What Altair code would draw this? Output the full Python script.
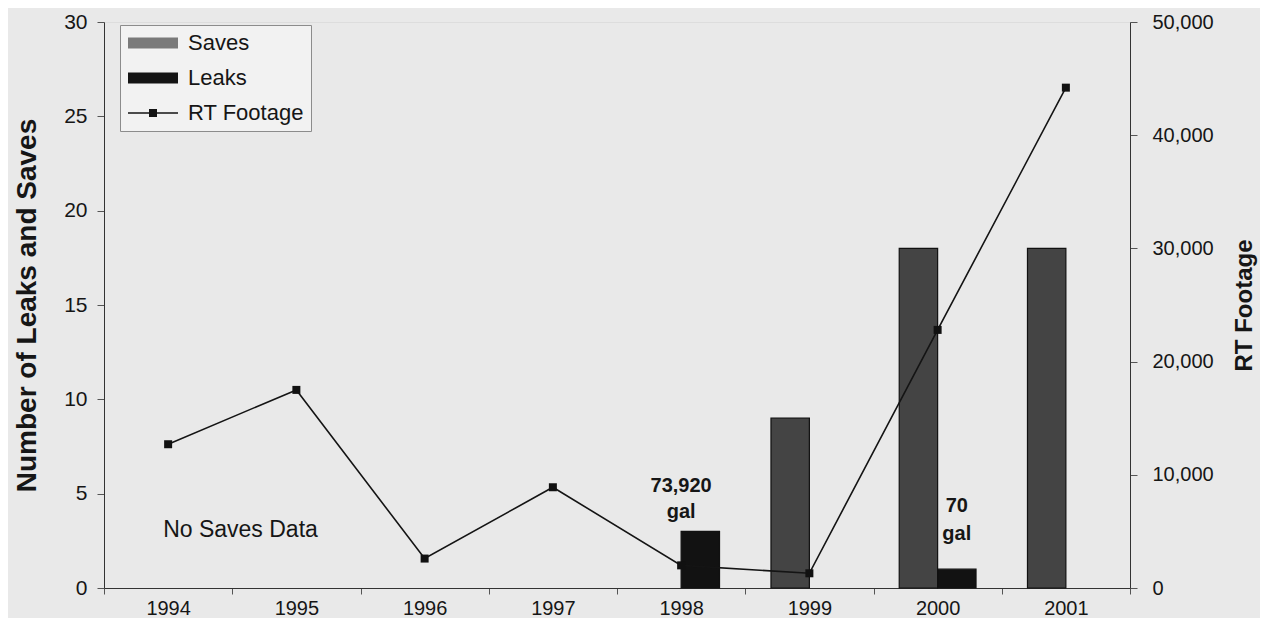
import altair as alt
import pandas as pd

# ---------------- data ----------------
years = ["1994", "1995", "1996", "1997", "1998", "1999", "2000", "2001"]
saves = [None, None, None, None, None, 9, 18, 18]
leaks = [0, 0, 0, 0, 3, 0, 1, 0]
rt_footage = [12700, 17500, 2600, 8900, 2000, 1300, 22800, 44200]

bar_series = ["Saves", "Leaks"]
legend_series = ["Saves", "Leaks", "RT Footage"]

left_ticks = [0, 5, 10, 15, 20, 25, 30]
right_ticks = [0, 10000, 20000, 30000, 40000, 50000]

note_left_year = ["1994"]
note_left_text = ["No Saves Data"]
note_left_value = [3.05]

note_center_year = ["1998"]
note_center_text = ["73,920\ngal"]
note_center_value = [5.4]

note_leak_year = ["2000"]
note_leak_series = ["Leaks"]
note_leak_text = ["70\ngal"]
note_leak_value = [4.35]

# ---------------- tables ----------------
rows = []
for y, s, l in zip(years, saves, leaks):
    if s:
        rows.append({"year": y, "series": "Saves", "value": s})
    if l:
        rows.append({"year": y, "series": "Leaks", "value": l})
bar_df = pd.DataFrame(rows)
line_df = pd.DataFrame({"year": years, "rt": rt_footage})
legend_df = pd.DataFrame({"series": legend_series})
nl_df = pd.DataFrame({"year": note_left_year, "label": note_left_text, "value": note_left_value})
nc_df = pd.DataFrame({"year": note_center_year, "label": note_center_text, "value": note_center_value})
nk_df = pd.DataFrame({"year": note_leak_year, "series": note_leak_series,
                      "label": note_leak_text, "value": note_leak_value})

FONT = "Liberation Sans"
INK = "#161616"

x_scale = alt.Scale(domain=years, paddingInner=0, paddingOuter=0)
xoff_scale = alt.Scale(domain=bar_series, paddingInner=0, paddingOuter=0.67)
y_left = alt.Scale(domain=[0, 30], nice=False)
y_right = alt.Scale(domain=[0, 50000], nice=False)

x_axis = alt.Axis(title=None, labelAngle=0, tickBand="extent", tickSize=6,
                  labelPadding=4, labelFontSize=20, labelColor=INK,
                  domainColor="#333", tickColor="#555", grid=False)
left_axis = alt.Axis(title="Number of Leaks and Saves", values=left_ticks, tickSize=7,
                     labelPadding=10, labelFontSize=21, labelColor=INK,
                     titleFontSize=28, titleFontWeight="bold", titleColor=INK,
                     titlePadding=22, domainColor="#333", tickColor="#555", grid=False)
right_axis = alt.Axis(title="RT Footage", values=right_ticks, format=",d", orient="right",
                      tickSize=7, labelPadding=15, labelFontSize=20, labelColor=INK,
                      titleFontSize=24, titleFontWeight="bold", titleColor=INK,
                      titleAngle=270, titleBaseline="top", titlePadding=19,
                      domainColor="#333", tickColor="#555", grid=False)

X = alt.X("year:N", scale=x_scale, axis=x_axis)
XO = alt.XOffset("series:N", scale=xoff_scale)

bars = alt.Chart(bar_df).mark_bar(stroke="#111", strokeWidth=1.2).encode(
    x=X, xOffset=XO,
    y=alt.Y("value:Q", scale=y_left, axis=left_axis),
    fill=alt.Fill("series:N", scale=alt.Scale(domain=bar_series, range=["#444444", "#121212"]),
                  legend=None),
)

txt_left = alt.Chart(nl_df).mark_text(align="left", baseline="middle", dx=-5, fontSize=23,
                                       font=FONT, color=INK).encode(
    x=X, y=alt.Y("value:Q", scale=y_left, axis=left_axis), text="label:N",
)
txt_center = alt.Chart(nc_df).mark_text(align="center", baseline="middle", fontSize=20,
                                         font=FONT, fontWeight="bold", color=INK,
                                         lineBreak="\n", lineHeight=26).encode(
    x=X, y=alt.Y("value:Q", scale=y_left, axis=left_axis), text="label:N",
)
txt_leak = alt.Chart(nk_df).mark_text(align="center", baseline="middle", fontSize=20,
                                       font=FONT, fontWeight="bold", color=INK,
                                       lineBreak="\n", lineHeight=28).encode(
    x=X, xOffset=XO, y=alt.Y("value:Q", scale=y_left, axis=left_axis), text="label:N",
)

rect_path = "M-2.5,-0.55H2.5V0.55H-2.5Z"
rt_path = "M-2.5,-0.08H2.5V0.08H-2.5Z M-0.4,-0.4H0.4V0.4H-0.4Z"
legend_def = alt.Legend(title=None, orient="none", legendX=16, legendY=3,
                        fillColor="#f2f2f2", strokeColor="#8c8c8c", padding=7,
                        labelFontSize=22, labelFont=FONT, labelColor=INK,
                        symbolSize=400, symbolOffset=15, labelOffset=24, rowPadding=13,
                        symbolStrokeColor="#222", symbolStrokeWidth=1.2, symbolOpacity=1)
legend_layer = alt.Chart(legend_df).transform_filter("false").mark_point(
    filled=True, size=400, stroke="#222", strokeWidth=1.2, opacity=1).encode(
    color=alt.Color("series:N", scale=alt.Scale(domain=legend_series,
                                                range=["#7a7a7a", "#141414", "#141414"]),
                    legend=legend_def),
    shape=alt.Shape("series:N", scale=alt.Scale(domain=legend_series,
                                                range=[rect_path, rect_path, rt_path]),
                    legend=legend_def),
)

YR = alt.Y("rt:Q", scale=y_right, axis=right_axis)
line = alt.Chart(line_df).mark_line(color="#141414", strokeWidth=1.6).encode(x=X, y=YR)
pts = alt.Chart(line_df).mark_point(shape="square", filled=True, size=64, color="#111",
                                     opacity=1).encode(x=X, y=YR)

left_group = alt.layer(bars, txt_left, txt_center, txt_leak, legend_layer)
right_group = alt.layer(line, pts)

chart = alt.layer(left_group, right_group).resolve_scale(y="independent").properties(
    width=1026, height=566,
    autosize=alt.AutoSizeParams(type="none"),
    padding={"left": 96, "top": 14, "right": 130, "bottom": 30},
    background="#e9e9e9",
).configure_view(stroke="#9a9a9a", fill="#ebebeb").configure(font=FONT)

chart.save("out.html", embed_options={"renderer": "svg", "actions": False})
